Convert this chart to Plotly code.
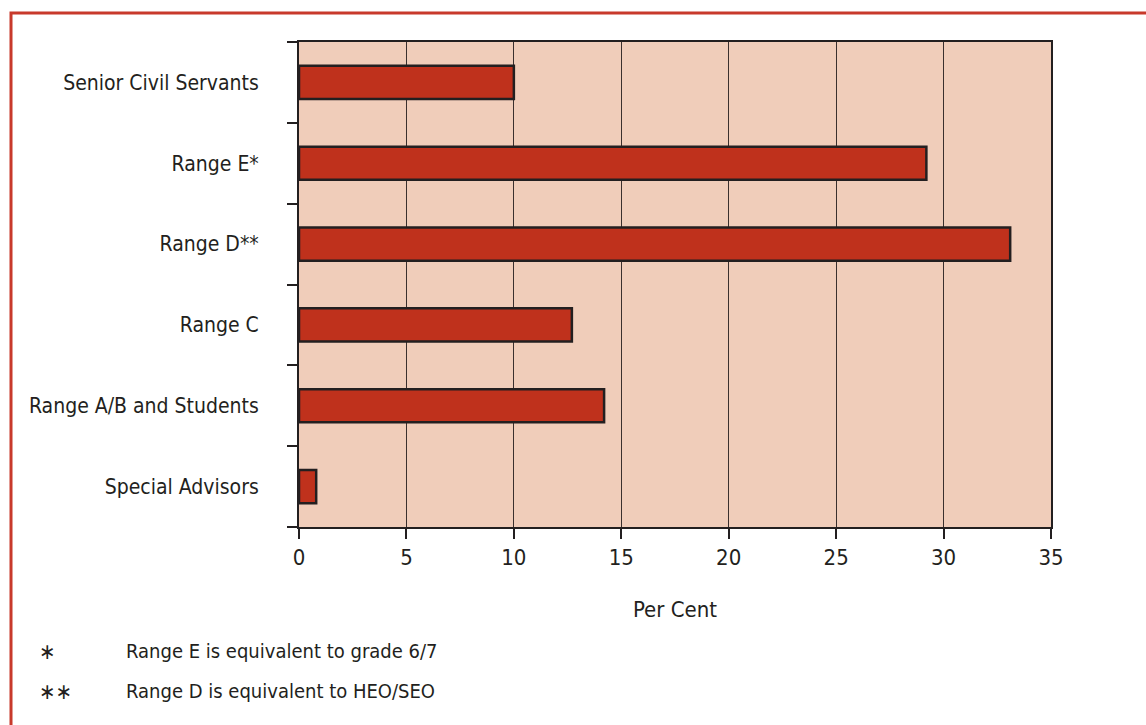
import plotly.graph_objects as go

# Share of staff by grade (per cent)
categories = [
    "Senior Civil Servants",
    "Range E*",
    "Range D**",
    "Range C",
    "Range A/B and Students",
    "Special Advisors",
]
per_cent = [10.0, 29.2, 33.1, 12.7, 14.2, 0.8]
x_ticks = [0, 5, 10, 15, 20, 25, 30, 35]

footnote_marks = ["\u2217", "\u2217\u2217"]
footnote_texts = [
    "Range E is equivalent to grade 6/7",
    "Range D is equivalent to HEO/SEO",
]

FONT = "DejaVu Sans Condensed, Liberation Sans Narrow, sans-serif"
INK = "#231f20"
BAR = "#bf311c"
PANEL = "#f0cdba"
FRAME = "#c8392b"

W, H = 1146, 725
L, R, T, B = 299, 95, 42, 198
PW, PH = W - L - R, H - T - B


def px_x(px):
    return (px - L) / PW


def px_y(py):
    return 1 - (py - T) / PH


fig = go.Figure(
    go.Bar(
        x=per_cent,
        y=categories,
        orientation="h",
        width=0.41,
        marker=dict(color=BAR, line=dict(color=INK, width=2.5)),
        hoverinfo="x+y",
    )
)

fig.update_layout(
    width=W,
    height=H,
    margin=dict(l=L, r=R, t=T, b=B, pad=0),
    paper_bgcolor="white",
    plot_bgcolor=PANEL,
    showlegend=False,
    font=dict(family=FONT, size=22, color=INK),
    xaxis=dict(
        range=[0, 35],
        tickvals=x_ticks,
        ticktext=[str(v) for v in x_ticks],
        showgrid=True,
        gridcolor="#3b302e",
        gridwidth=1,
        zeroline=False,
        showline=True,
        linecolor=INK,
        linewidth=2,
        mirror=True,
        ticks="outside",
        ticklen=10,
        tickwidth=2,
        tickcolor=INK,
        tickfont=dict(size=22),
        title=dict(text="Per Cent", font=dict(size=22), standoff=32),
    ),
    yaxis=dict(
        categoryorder="array",
        categoryarray=categories[::-1],
        tickson="boundaries",
        showgrid=False,
        zeroline=False,
        showline=True,
        linecolor=INK,
        linewidth=2,
        mirror=True,
        ticks="outside",
        ticklen=10,
        tickwidth=2,
        tickcolor=INK,
        ticklabelstandoff=34,
        tickfont=dict(size=21),
    ),
)

# Footnotes explaining the starred grades
for i, (mark, text) in enumerate(zip(footnote_marks, footnote_texts)):
    yy = px_y(651 + i * 40)
    fig.add_annotation(x=px_x(37), y=yy, xref="paper", yref="paper", text=mark,
                       showarrow=False, xanchor="left", yanchor="middle",
                       font=dict(size=22, color=INK))
    fig.add_annotation(x=px_x(124), y=yy, xref="paper", yref="paper", text=text,
                       showarrow=False, xanchor="left", yanchor="middle",
                       font=dict(size=20, color=INK))

# Red frame around the figure (open at right and bottom edges of the page)
fig.add_shape(type="rect", xref="paper", yref="paper",
              x0=px_x(11), x1=px_x(W + 20), y0=px_y(H + 20), y1=px_y(13),
              line=dict(color=FRAME, width=3), fillcolor="rgba(0,0,0,0)", layer="below")

fig.write_html("out.html")
